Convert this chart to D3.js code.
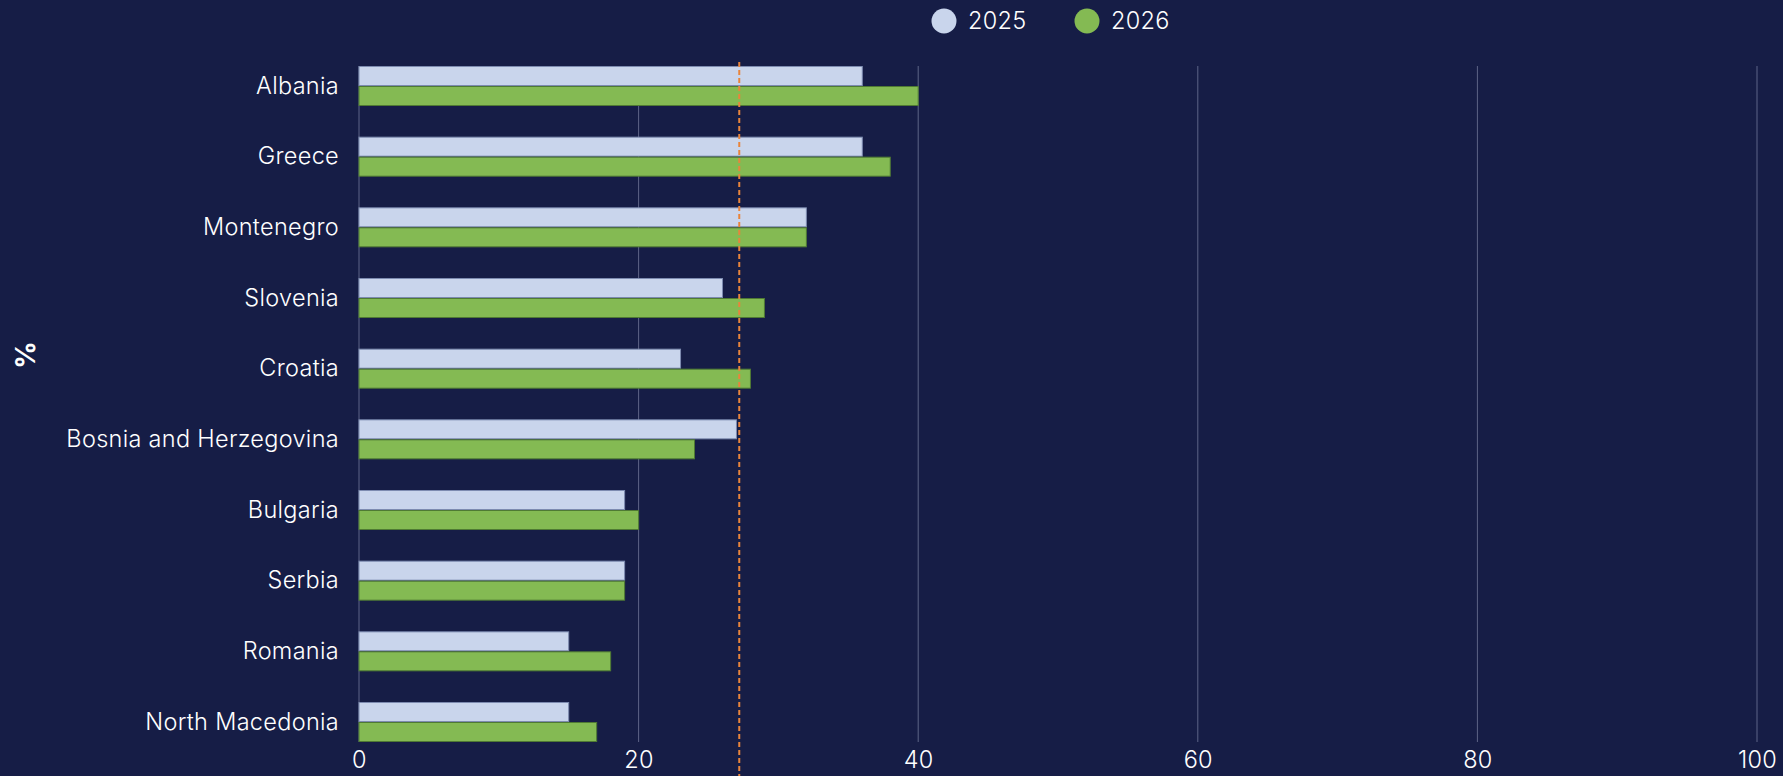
<!DOCTYPE html>
<html>
<head>
<meta charset="utf-8">
<script src="https://cdn.jsdelivr.net/npm/d3@7"></script>
<style>
  html, body { margin: 0; padding: 0; background: #161d46; }
  svg { display: block; }
</style>
</head>
<body>
<svg id="chart" width="1783" height="776"></svg>
<script>
// Categories (top to bottom) and values in %
const countries = ["Albania", "Greece", "Montenegro", "Slovenia", "Croatia",
  "Bosnia and Herzegovina", "Bulgaria", "Serbia", "Romania", "North Macedonia"];
const values2025 = [36, 36, 32, 26, 23, 27, 19, 19, 15, 15];
const values2026 = [40, 38, 32, 29, 28, 24, 20, 19, 18, 17];
const seriesNames = ["2025", "2026"];
const referenceValue = 27.2;
const xTicks = [0, 20, 40, 60, 80, 100];
const axisTitle = "%";

const colors = { "2025": "#c9d5ec", "2026": "#84ba53" };
const strokes = { "2025": "#7d8bb0", "2026": "#4f7a33" };
const font = "Inter, 'Open Sans', sans-serif";
const labelSize = 23.5;
const labelSpacing = "0.3px";

const svg = d3.select("#chart");
const W = 1783, H = 776;
const margin = { left: 359, right: 26, top: 66, bottom: 34 };

svg.append("rect").attr("width", W).attr("height", H).attr("fill", "#161d46");

const x = d3.scaleLinear().domain([0, 100]).range([margin.left, 1757]);
const y = d3.scaleBand().domain(countries).range([margin.top, H - margin.bottom])
  .paddingInner(0.434).paddingOuter(0);
const ySub = d3.scaleBand().domain(seriesNames).range([0, y.bandwidth()]).padding(0);

// vertical grid lines
svg.append("g").selectAll("line").data(xTicks).join("line")
  .attr("x1", d => x(d)).attr("x2", d => x(d))
  .attr("y1", margin.top).attr("y2", H - margin.bottom)
  .attr("stroke", "#5d6487").attr("stroke-width", 1);

// x axis tick labels
const xAxis = d3.axisBottom(x).tickValues(xTicks).tickSize(0).tickPadding(9);
const gx = svg.append("g").attr("transform", `translate(0,${H - margin.bottom})`).call(xAxis);
gx.select(".domain").remove();
gx.selectAll("text").attr("fill", "#ffffff").attr("font-size", labelSize)
  .attr("font-family", font).attr("font-weight", 300)
  .attr("letter-spacing", labelSpacing);

// y axis category labels
const yAxis = d3.axisLeft(y).tickSize(0).tickPadding(20);
const gy = svg.append("g").attr("transform", `translate(${margin.left},0)`).call(yAxis);
gy.select(".domain").remove();
gy.selectAll("text").attr("fill", "#ffffff").attr("font-size", labelSize)
  .attr("font-family", font).attr("font-weight", 300)
  .attr("letter-spacing", labelSpacing);

// bars
const rows = countries.map((c, i) => ({ country: c, values: [
  { key: "2025", value: values2025[i] }, { key: "2026", value: values2026[i] }] }));

const groups = svg.append("g").selectAll("g").data(rows).join("g")
  .attr("transform", d => `translate(0,${y(d.country)})`);
groups.selectAll("rect").data(d => d.values).join("rect")
  .attr("x", x(0))
  .attr("y", d => ySub(d.key) + 0.5)
  .attr("width", d => x(d.value) - x(0))
  .attr("height", ySub.bandwidth() - 1)
  .attr("fill", d => colors[d.key])
  .attr("stroke", d => strokes[d.key])
  .attr("stroke-width", 1);

// reference line
svg.append("line")
  .attr("x1", x(referenceValue)).attr("x2", x(referenceValue))
  .attr("y1", margin.top - 4).attr("y2", H)
  .attr("stroke", "#e8843c").attr("stroke-width", 2)
  .attr("stroke-dasharray", "5,3");

// axis title
svg.append("text")
  .attr("transform", "translate(25,355) rotate(-90)")
  .attr("text-anchor", "middle").attr("dominant-baseline", "central")
  .attr("fill", "#ffffff").attr("font-size", 27).attr("font-weight", 700)
  .attr("font-family", font)
  .text(axisTitle);

// legend
const legendX = [944, 1087];
const legend = svg.append("g").selectAll("g").data(seriesNames).join("g")
  .attr("transform", (d, i) => `translate(${legendX[i]},21)`);
legend.append("circle").attr("r", 12.5).attr("fill", d => colors[d]);
legend.append("text").attr("x", 24).attr("dy", "0.35em")
  .attr("fill", "#ffffff").attr("font-size", labelSize).attr("font-family", font)
  .attr("font-weight", 300).attr("letter-spacing", labelSpacing)
  .text(d => d);
</script>
</body>
</html>
